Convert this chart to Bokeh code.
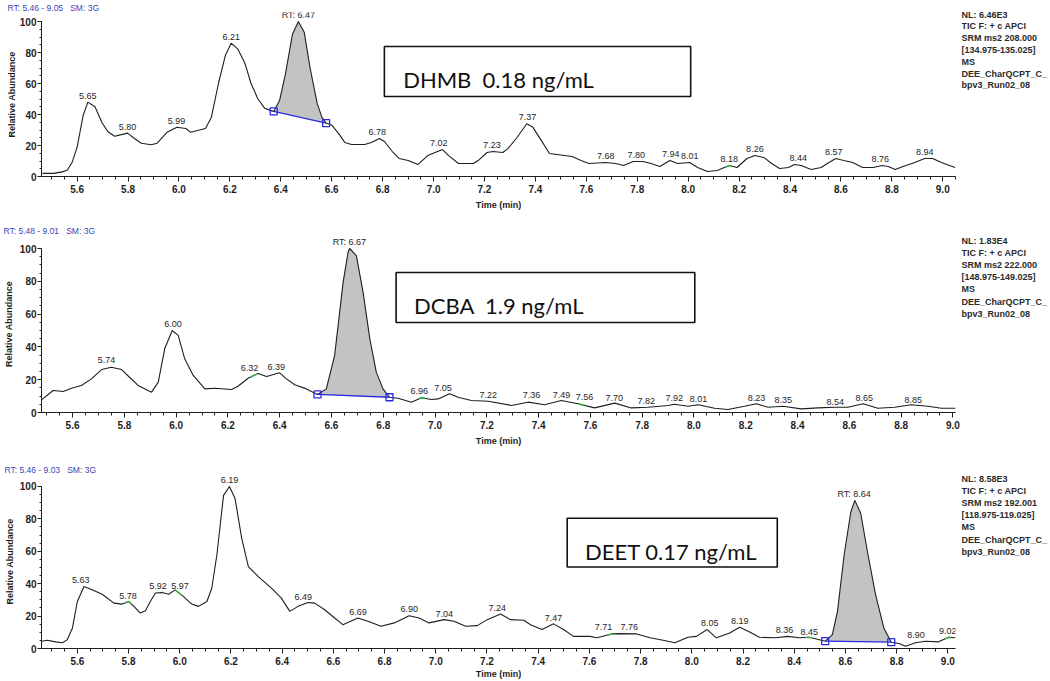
import numpy as np
from bokeh.plotting import figure
from bokeh.layouts import column, row
from bokeh.models import Range1d, Title, SingleIntervalTicker, PrintfTickFormatter
from bokeh.core.properties import value
from bokeh.embed import file_html
from bokeh.resources import INLINE

# ---------------- DHMB ----------------
dhmb_rt = [5.464, 5.507, 5.541, 5.561, 5.580, 5.600, 5.623, 5.642, 5.670, 5.697, 5.720, 5.747, 5.774, 5.798,
           5.825, 5.852, 5.891, 5.914, 5.953, 5.992, 6.027, 6.046, 6.069, 6.104, 6.127, 6.155, 6.182, 6.205,
           6.232, 6.259, 6.283, 6.310, 6.337, 6.360, 6.372, 6.395, 6.418, 6.446, 6.469, 6.492, 6.515, 6.543,
           6.562, 6.578, 6.601, 6.628, 6.651, 6.678, 6.729, 6.756, 6.787, 6.807, 6.841, 6.865, 6.900, 6.938,
           6.977, 7.035, 7.059, 7.098, 7.156, 7.175, 7.210, 7.233, 7.272, 7.292, 7.327, 7.366, 7.389, 7.424,
           7.455, 7.493, 7.544, 7.579, 7.610, 7.676, 7.715, 7.746, 7.784, 7.823, 7.854, 7.889, 7.928, 7.959,
           8.006, 8.037, 8.076, 8.114, 8.161, 8.192, 8.231, 8.262, 8.297, 8.328, 8.359, 8.394, 8.417, 8.444,
           8.483, 8.522, 8.553, 8.580, 8.611, 8.646, 8.685, 8.727, 8.762, 8.786, 8.813, 8.844, 8.890, 8.929,
           8.960, 8.995, 9.026, 9.049]
dhmb_ab = [2, 2, 3, 4, 9, 19, 39, 48, 45, 35, 29, 26, 27, 28, 24.5, 21.5, 20.5, 21.5, 28.5, 31.8, 31, 28.5,
           29.5, 31, 38, 60, 78, 86, 82, 73, 60, 50, 44, 42.5, 42, 49, 66, 92, 100, 93, 70, 47, 38, 34.5, 33,
           27.5, 22, 20.6, 20.6, 22, 24.5, 22.6, 15.5, 11.6, 10.3, 7.7, 13.5, 17.4, 13.5, 8.4, 8.4, 10.3, 15.5,
           16.1, 15.5, 18, 25, 34, 32, 23, 14.8, 14, 12.9, 10.3, 8.4, 9, 8.4, 7.1, 9.7, 9.7, 8.4, 6.5, 10.3,
           8.4, 9, 5.8, 3.2, 3.9, 7.1, 5.8, 11.6, 13.5, 12.3, 8.4, 5.2, 5.8, 7.7, 7.1, 4.5, 5.8, 9, 11.6, 10.3,
           9, 5.8, 5.8, 7.1, 6.5, 4.5, 6.5, 9, 11.6, 11.6, 9, 7.1, 5.8]
dhmb_lab_text = ["5.65", "5.80", "5.99", "6.21", "RT: 6.47", "6.78", "7.02", "7.23", "7.37", "7.68", "7.80",
                 "7.94", "8.01", "8.18", "8.26", "8.44", "8.57", "8.76", "8.94"]
dhmb_lab_rt = [5.642, 5.798, 5.990, 6.205, 6.469, 6.779, 7.020, 7.229, 7.369, 7.676, 7.796, 7.932, 8.006,
               8.161, 8.262, 8.432, 8.572, 8.754, 8.929]
dhmb_lab_ab = [48, 28, 31.8, 86, 100, 24.5, 17.4, 16.1, 34, 9, 9.7, 10.3, 9, 7.1, 13.5, 7.7, 11.6, 7.1, 11.6]
dhmb_green = [8.16]
dhmb_integ = [6.372, 6.578]
dhmb_header = "RT: 5.46 - 9.05\u00a0\u00a0\u00a0SM: 3G"
dhmb_info = ["NL: 6.46E3", "TIC F: + c APCI", "SRM ms2 208.000", "[134.975-135.025]", "MS",
             "DEE_CharQCPT_C_", "bpv3_Run02_08"]
dhmb_box = "DHMB\u00a0\u00a00.18 ng/mL"

# ---------------- DCBA ----------------
dcba_rt = [5.480, 5.525, 5.564, 5.596, 5.634, 5.673, 5.712, 5.750, 5.789, 5.820, 5.853, 5.905, 5.931, 5.956,
           5.985, 6.008, 6.033, 6.066, 6.111, 6.149, 6.214, 6.239, 6.278, 6.317, 6.349, 6.400, 6.426, 6.458,
           6.503, 6.546, 6.580, 6.612, 6.645, 6.664, 6.670, 6.696, 6.722, 6.748, 6.773, 6.799, 6.824, 6.857,
           6.909, 6.947, 6.986, 7.012, 7.056, 7.089, 7.140, 7.205, 7.295, 7.359, 7.423, 7.488, 7.552, 7.616,
           7.694, 7.758, 7.822, 7.900, 7.925, 7.977, 8.016, 8.080, 8.131, 8.195, 8.241, 8.286, 8.344, 8.414,
           8.479, 8.543, 8.595, 8.653, 8.710, 8.775, 8.839, 8.904, 8.955, 9.010]
dcba_ab = [7.7, 13.4, 12.8, 14.8, 16.5, 20.5, 26.2, 27.6, 26.2, 21.5, 16.5, 12.4, 18.5, 39, 50, 47, 32.7,
           22.6, 14.4, 14.8, 14, 16, 20.9, 23.8, 22, 24.2, 20.5, 16.9, 14.4, 11, 14.4, 34.7, 79.5, 97.7, 100,
           95.7, 73.4, 44.9, 24.6, 14.4, 9.3, 8.7, 6.3, 9, 7.9, 8.3, 11.4, 9.3, 7.3, 6.9, 4.3, 6.3, 4.7, 7.3,
           5.3, 2.8, 5.7, 2.8, 3.2, 4.3, 5, 3.8, 4.7, 2.6, 1.8, 3.8, 5.3, 3.2, 3.8, 2.2, 2.8, 3.2, 3.2, 5.3,
           2.6, 3.2, 4.7, 3.8, 2.6, 2.6]
dcba_lab_text = ["5.74", "6.00", "6.32", "6.39", "RT: 6.67", "6.96", "7.05", "7.22", "7.36", "7.49", "7.56",
                 "7.70", "7.82", "7.92", "8.01", "8.23", "8.35", "8.54", "8.65", "8.85"]
dcba_lab_rt = [5.731, 5.988, 6.283, 6.387, 6.669, 6.939, 7.031, 7.205, 7.372, 7.488, 7.577, 7.692, 7.816,
               7.924, 8.017, 8.241, 8.345, 8.546, 8.658, 8.847]
dcba_lab_ab = [28, 50, 23.2, 23.8, 100, 9.1, 10.8, 6.7, 6.7, 6.7, 5.5, 4.9, 3, 4.9, 4.3, 4.9, 3.7, 2.4, 4.9, 3.7]
dcba_green = [6.30, 6.95, 7.565]
dcba_integ = [6.546, 6.824]
dcba_header = "RT: 5.48 - 9.01\u00a0\u00a0\u00a0SM: 3G"
dcba_info = ["NL: 1.83E4", "TIC F: + c APCI", "SRM ms2 222.000", "[148.975-149.025]", "MS",
             "DEE_CharQCPT_C_", "bpv3_Run02_08"]
dcba_box = "DCBA\u00a0\u00a01.9 ng/mL"

# ---------------- DEET ----------------
deet_rt = [5.461, 5.483, 5.516, 5.542, 5.561, 5.581, 5.600, 5.626, 5.658, 5.697, 5.743, 5.775, 5.801, 5.821,
           5.846, 5.866, 5.885, 5.905, 5.931, 5.957, 5.982, 6.015, 6.047, 6.073, 6.106, 6.125, 6.145, 6.171,
           6.194, 6.216, 6.242, 6.268, 6.307, 6.358, 6.397, 6.430, 6.462, 6.501, 6.527, 6.566, 6.605, 6.637,
           6.696, 6.735, 6.786, 6.838, 6.896, 6.935, 6.974, 7.033, 7.071, 7.117, 7.162, 7.201, 7.253, 7.292,
           7.344, 7.370, 7.415, 7.460, 7.499, 7.538, 7.603, 7.629, 7.688, 7.720, 7.785, 7.837, 7.888, 7.934,
           7.985, 8.018, 8.060, 8.096, 8.148, 8.187, 8.226, 8.264, 8.329, 8.374, 8.420, 8.459, 8.521, 8.549,
           8.569, 8.595, 8.621, 8.637, 8.660, 8.686, 8.718, 8.750, 8.779, 8.809, 8.835, 8.874, 8.913, 8.964,
           9.003, 9.029]
deet_ab = [4.5, 5.1, 4.1, 3.5, 5.5, 12.7, 29, 38.2, 36.2, 33.5, 28, 27.4, 29, 26, 21.9, 23.3, 29, 34.2, 34.5,
           33.5, 36.2, 32, 27.4, 26, 29, 37.2, 57.7, 94.5, 100, 92.5, 68, 50.5, 44.4, 37.2, 31.1, 22.9, 26, 28.4,
           28, 23.9, 18.8, 14.7, 18.8, 16.8, 13.7, 15.8, 20.2, 18.8, 15.8, 17.8, 16.8, 13.7, 14.1, 17.8, 21.3,
           17.8, 17.4, 14.7, 11.7, 15.2, 11.7, 7.5, 7.5, 6.6, 9, 9.2, 9, 6.6, 5.1, 3.5, 6.9, 7.5, 11.7, 6.6, 9.6,
           13.1, 10.2, 6.9, 6.6, 7.5, 6.6, 6.9, 4.5, 8.6, 22.9, 57.7, 84.2, 91.4, 83.3, 59.7, 33.1, 12.7, 3.9,
           3.1, 1.4, 3.5, 4.5, 4.1, 6.9, 6.6]
deet_lab_text = ["5.63", "5.78", "5.92", "5.97", "6.19", "6.49", "6.69", "6.90", "7.04", "7.24", "7.47", "7.71",
                 "7.76", "8.05", "8.19", "8.36", "8.45", "RT: 8.64", "8.90", "9.02"]
deet_lab_rt = [5.613, 5.798, 5.915, 6.001, 6.194, 6.482, 6.696, 6.896, 7.033, 7.240, 7.460, 7.655, 7.756,
               8.070, 8.187, 8.362, 8.459, 8.634, 8.876, 9.000]
deet_lab_ab = [38, 28.4, 34.4, 34.4, 100, 27.8, 18.6, 20.1, 17.2, 21, 14.9, 9, 9, 11.5, 13.1, 7.4, 6, 91.2,
               4.3, 6.7]
deet_green = [5.80, 5.995, 7.68, 8.455, 9.0]
deet_integ = [8.521, 8.779]
deet_header = "RT: 5.46 - 9.03\u00a0\u00a0\u00a0SM: 3G"
deet_info = ["NL: 8.58E3", "TIC F: + c APCI", "SRM ms2 192.001", "[118.975-119.025]", "MS",
             "DEE_CharQCPT_C_", "bpv3_Run02_08"]
deet_box = "DEET 0.17 ng/mL"

FONT = "Liberation Sans"
INK = "#1e1e1e"
BLUE = "#2a2ae0"
GREEN = "#3cb043"
LEFT_W = 961
TOP_PAD = 12


def panel(cfg, rt, ab, lab_text, lab_rt, lab_ab, green, integ, header, box_text):
    top, H, ax, ay, fr = cfg["top"], cfg["H"], cfg["axis_x"], cfg["axis_y"], cfg["frame_r"]
    x0, x1, sy = cfg["x0"], cfg["x1"], cfg["sy"]
    sx = (fr - ax) / (x1 - x0)
    ftop = top + TOP_PAD
    y1 = (ay - ftop) / sy
    p = figure(width=LEFT_W, height=H, x_range=Range1d(x0, x1), y_range=Range1d(0, y1),
               output_backend="svg", toolbar_location=None,
               min_border_left=ax, min_border_right=LEFT_W - fr, min_border_top=TOP_PAD,
               min_border_bottom=top + H - ay)
    p.outline_line_color = None
    p.xgrid.visible = False
    p.ygrid.visible = False
    p.background_fill_color = "white"
    p.border_fill_color = "white"

    def tx(X):
        return x0 + (X - ax) / sx

    def ty(Y):
        return (ay - Y) / sy

    # header above the frame
    p.add_layout(Title(text=header, align="left", offset=2 - ax, standoff=0, text_font=FONT,
                       text_font_size="8.5px", text_font_style="normal", text_color="#3a44b8"), "above")

    # axes
    xa = p.xaxis[0]
    ya = p.yaxis[0]
    xa.ticker = SingleIntervalTicker(interval=0.2, num_minor_ticks=4)
    xa.formatter = PrintfTickFormatter(format="%.1f")
    ya.ticker = SingleIntervalTicker(interval=20, num_minor_ticks=4)
    ya.bounds = (0, 100)
    for a in (xa, ya):
        a.axis_line_color = INK
        a.major_tick_line_color = INK
        a.minor_tick_line_color = INK
        a.major_tick_in = 0
        a.minor_tick_in = 0
        a.major_label_text_font = FONT
        a.major_label_text_font_size = "10px"
        a.major_label_text_font_style = "bold"
        a.major_label_text_color = INK
        a.axis_label_text_font = FONT
        a.axis_label_text_font_size = "9px"
        a.axis_label_text_font_style = "bold"
        a.axis_label_text_color = INK
    xa.major_tick_out = 5
    xa.minor_tick_out = 3
    xa.major_label_standoff = 3
    xa.axis_label = "Time (min)"
    xa.axis_label_standoff = cfg["xt_standoff"]
    ya.major_tick_out = 4
    ya.minor_tick_out = 2
    ya.major_label_standoff = 1
    ya.axis_label = "Relative Abundance"
    ya.axis_label_standoff = max(0, ax - 37)

    rt_a = np.array(rt, dtype=float)
    ab_a = np.array(ab, dtype=float)

    # integrated peak
    ts, te = integ
    a_s = float(np.interp(ts, rt_a, ab_a))
    a_e = float(np.interp(te, rt_a, ab_a))
    inner = rt_a[(rt_a > ts) & (rt_a < te)]
    xs = np.concatenate([[ts], inner, [te]])
    ys = np.interp(xs, rt_a, ab_a)
    base = np.interp(xs, [ts, te], [a_s, a_e])
    p.varea(x=xs, y1=base, y2=ys, fill_color="#c3c3c3")

    # chromatogram
    p.line(rt_a, ab_a, line_color=INK, line_width=1.1)

    # baseline and markers
    p.line([ts, te], [a_s, a_e], line_color=BLUE, line_width=1.3)
    p.scatter([ts, te], [a_s, a_e], marker="square", size=7, fill_color=None,
              line_color=BLUE, line_width=1.3)

    # green flags
    for g in green:
        gx = np.linspace(g - 0.012, g + 0.012, 5)
        gy = np.interp(gx, rt_a, ab_a)
        p.line(gx, gy, line_color=GREEN, line_width=1.6)

    # peak labels
    p.text(x=lab_rt, y=lab_ab, text=lab_text, text_align="center", text_baseline="middle",
           y_offset=-6.5, text_font=value(FONT), text_font_size="9px", text_color="#262626")

    # compound box
    bx0, by0, bx1, by1 = cfg["box"]
    p.quad(left=[tx(bx0)], right=[tx(bx1)], top=[ty(by0)], bottom=[ty(by1)],
           fill_color="white", line_color="#111111", line_width=1.6)
    p.text(x=[tx(cfg["box_tx"])], y=[ty(cfg["box_ty"])], text=[box_text], text_align="left",
           text_baseline="alphabetic", text_font=value("Lato"), text_font_size="22px",
           text_color="#111111")
    return p


cfg1 = dict(top=0, H=223, axis_x=36, axis_y=176, frame_r=961, x0=5.46, x1=9.05, sy=1.55,
            box=(383, 46, 693, 96), box_tx=402, box_ty=79, xt_standoff=4)
cfg2 = dict(top=223, H=239, axis_x=40, axis_y=412, frame_r=955, x0=5.48, x1=9.01, sy=1.64,
            box=(395, 272, 694, 322), box_tx=413, box_ty=305, xt_standoff=4)
cfg3 = dict(top=462, H=219, axis_x=39, axis_y=649, frame_r=957, x0=5.46, x1=9.03, sy=1.63,
            box=(567, 518, 778, 567), box_tx=585, box_ty=551, xt_standoff=1)

p1 = panel(cfg1, dhmb_rt, dhmb_ab, dhmb_lab_text, dhmb_lab_rt, dhmb_lab_ab, dhmb_green, dhmb_integ,
           dhmb_header, dhmb_box)
p2 = panel(cfg2, dcba_rt, dcba_ab, dcba_lab_text, dcba_lab_rt, dcba_lab_ab, dcba_green, dcba_integ,
           dcba_header, dcba_box)
p3 = panel(cfg3, deet_rt, deet_ab, deet_lab_text, deet_lab_rt, deet_lab_ab, deet_green, deet_integ,
           deet_header, deet_box)

# instrument-info column on the right (pixel-like coordinates)
pinfo = figure(width=1050 - LEFT_W, height=681, x_range=Range1d(LEFT_W, 1050), y_range=Range1d(681, 0),
               output_backend="svg", toolbar_location=None, x_axis_type=None, y_axis_type=None,
               min_border=0)
pinfo.outline_line_color = None
pinfo.xgrid.visible = False
pinfo.ygrid.visible = False
for info, y0, dy in ((dhmb_info, 14, 11.8), (dcba_info, 240, 12.2), (deet_info, 478, 12.2)):
    pinfo.text(x=[LEFT_W] * len(info), y=[y0 + i * dy for i in range(len(info))], text=info,
               text_align="left", text_baseline="middle", text_font=value(FONT), text_font_size="9px",
               text_font_style="bold", text_color="#2a2a2a")

layout = row(column(p1, p2, p3, spacing=0), pinfo, spacing=0)
open("out.html", "w").write(file_html(layout, INLINE))
